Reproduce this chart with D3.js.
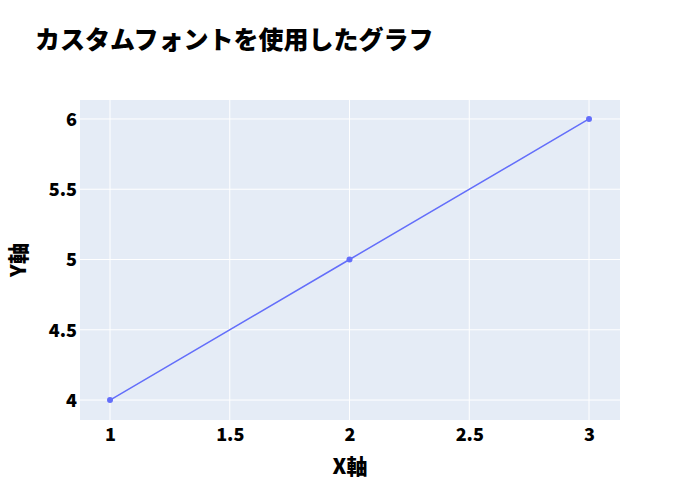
<!DOCTYPE html>
<html><head><meta charset="utf-8">
<script src="https://cdn.jsdelivr.net/npm/d3@7"></script>
<style>body{margin:0;background:#fff;} text{font-family:"Noto Sans CJK JP","Noto Sans",sans-serif;font-weight:900;}</style>
</head><body>
<script>
const xValues = [1, 2, 3];
const yValues = [4, 5, 6];
const xTicks = [1, 1.5, 2, 2.5, 3];
const yTicks = [4, 4.5, 5, 5.5, 6];
const titleText = "カスタムフォントを使用したグラフ";
const xTitle = "X軸";
const yTitle = "Y軸";

const W = 700, H = 500, m = {l: 80, r: 80, t: 100, b: 80};
const svg = d3.select("body").append("svg").attr("width", W).attr("height", H);
const x = d3.scaleLinear().domain([0.8747, 3.1294]).range([m.l, W - m.r]);
const y = d3.scaleLinear().domain([3.858, 6.135]).range([H - m.b, m.t]);

svg.append("rect").attr("x", m.l).attr("y", m.t).attr("width", W - m.l - m.r).attr("height", H - m.t - m.b).attr("fill", "#E5ECF6");

svg.append("g").selectAll("line").data(xTicks).join("line")
  .attr("x1", d => x(d)).attr("x2", d => x(d)).attr("y1", m.t).attr("y2", H - m.b)
  .attr("stroke", "#fff").attr("stroke-width", 1);
svg.append("g").selectAll("line").data(yTicks).join("line")
  .attr("y1", d => y(d)).attr("y2", d => y(d)).attr("x1", m.l).attr("x2", W - m.r)
  .attr("stroke", "#fff").attr("stroke-width", 1);

const xAxis = svg.append("g").attr("transform", `translate(0,${H - m.b})`)
  .call(d3.axisBottom(x).tickValues(xTicks).tickSize(0).tickPadding(6).tickFormat(d3.format("")));
xAxis.select(".domain").remove();
xAxis.selectAll("text").attr("font-size", 18).attr("fill", "#000").attr("dy", "0.85em")
  .style("font-family", '"Noto Sans CJK JP"').style("font-weight", "900");

const yAxis = svg.append("g").attr("transform", `translate(${m.l},0)`)
  .call(d3.axisLeft(y).tickValues(yTicks).tickSize(0).tickPadding(3).tickFormat(d3.format("")));
yAxis.select(".domain").remove();
yAxis.selectAll("text").attr("font-size", 18).attr("fill", "#000").attr("dy", "0.35em")
  .style("font-family", '"Noto Sans CJK JP"').style("font-weight", "900");

const line = d3.line().x((d, i) => x(xValues[i])).y(d => y(d));
svg.append("path").datum(yValues).attr("d", line).attr("fill", "none")
  .attr("stroke", "#636efa").attr("stroke-width", 1.5);
svg.append("g").selectAll("circle").data(yValues).join("circle")
  .attr("cx", (d, i) => x(xValues[i])).attr("cy", d => y(d)).attr("r", 3).attr("fill", "#636efa");

svg.append("text").attr("x", 35).attr("y", 49).attr("font-size", 25).attr("fill", "#000").text(titleText);
svg.append("text").attr("x", (m.l + W - m.r) / 2).attr("y", 474).attr("text-anchor", "middle")
  .attr("font-size", 21).attr("fill", "#000").text(xTitle);
svg.append("text").attr("transform", `translate(26,${(m.t + H - m.b) / 2}) rotate(-90)`).attr("text-anchor", "middle")
  .attr("font-size", 21).attr("fill", "#000").text(yTitle);
</script>
</body></html>
